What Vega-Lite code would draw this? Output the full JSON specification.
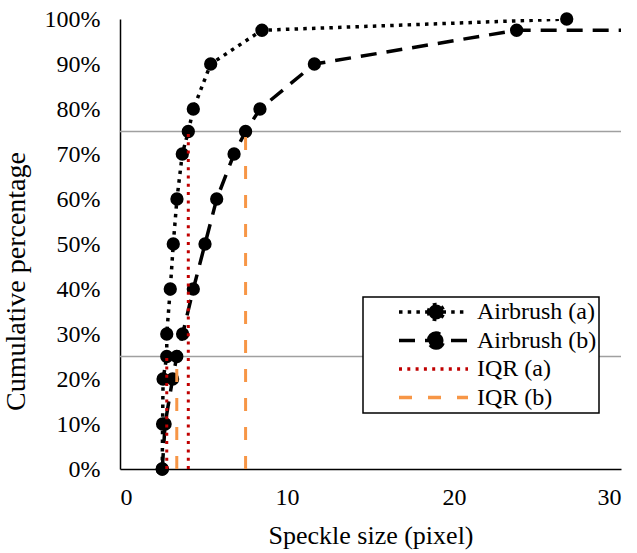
{
  "$schema": "https://vega.github.io/schema/vega-lite/v6.json",
  "width": 501,
  "height": 450,
  "autosize": {"type": "none"},
  "padding": {"left": 120, "top": 19, "right": 16, "bottom": 84},
  "background": "white",
  "config": {
    "font": "Liberation Serif",
    "view": {"stroke": null},
    "axis": {
      "domainColor": "black",
      "domainWidth": 1.5,
      "ticks": false,
      "tickSize": 0,
      "grid": false,
      "labelColor": "black",
      "labelFont": "Liberation Serif",
      "labelFontSize": 24,
      "titleColor": "black",
      "titleFont": "Liberation Serif",
      "titleFontWeight": "normal"
    },
    "axisX": {"labelPadding": 16, "titlePadding": 13, "titleFontSize": 26},
    "axisY": {"labelPadding": 20, "titlePadding": 14, "titleFontSize": 28, "titleY": 262}
  },
  "datasets": {
    "curves": [
      {"series": "Airbrush (a)", "size": 2.53, "pct": 0},
      {"series": "Airbrush (a)", "size": 2.55, "pct": 0.1},
      {"series": "Airbrush (a)", "size": 2.58, "pct": 0.2},
      {"series": "Airbrush (a)", "size": 2.8, "pct": 0.25},
      {"series": "Airbrush (a)", "size": 2.8, "pct": 0.3},
      {"series": "Airbrush (a)", "size": 3.01, "pct": 0.4},
      {"series": "Airbrush (a)", "size": 3.19, "pct": 0.5},
      {"series": "Airbrush (a)", "size": 3.41, "pct": 0.6},
      {"series": "Airbrush (a)", "size": 3.73, "pct": 0.7},
      {"series": "Airbrush (a)", "size": 4.09, "pct": 0.75},
      {"series": "Airbrush (a)", "size": 4.39, "pct": 0.8},
      {"series": "Airbrush (a)", "size": 5.43, "pct": 0.9},
      {"series": "Airbrush (a)", "size": 8.5, "pct": 0.975},
      {"series": "Airbrush (a)", "size": 26.75, "pct": 1.0},
      {"series": "Airbrush (b)", "size": 2.53, "pct": 0},
      {"series": "Airbrush (b)", "size": 2.7, "pct": 0.1},
      {"series": "Airbrush (b)", "size": 3.15, "pct": 0.2},
      {"series": "Airbrush (b)", "size": 3.4, "pct": 0.25},
      {"series": "Airbrush (b)", "size": 3.75, "pct": 0.3},
      {"series": "Airbrush (b)", "size": 4.39, "pct": 0.4},
      {"series": "Airbrush (b)", "size": 5.09, "pct": 0.5},
      {"series": "Airbrush (b)", "size": 5.79, "pct": 0.6},
      {"series": "Airbrush (b)", "size": 6.83, "pct": 0.7},
      {"series": "Airbrush (b)", "size": 7.52, "pct": 0.75},
      {"series": "Airbrush (b)", "size": 8.38, "pct": 0.8},
      {"series": "Airbrush (b)", "size": 11.64, "pct": 0.9},
      {"series": "Airbrush (b)", "size": 23.75, "pct": 0.975},
      {"series": "Airbrush (b)", "size": 31, "pct": 0.975}
    ],
    "iqr": [
      {"series": "IQR (a)", "size": 2.8, "from": 0, "to": 0.25},
      {"series": "IQR (a)", "size": 4.09, "from": 0, "to": 0.75},
      {"series": "IQR (b)", "size": 3.4, "from": 0, "to": 0.25},
      {"series": "IQR (b)", "size": 7.52, "from": 0, "to": 0.75}
    ],
    "quartiles": [{"q": 0.25}, {"q": 0.75}]
  },
  "layer": [
    {
      "data": {"name": "quartiles"},
      "mark": {"type": "rule", "color": "#A0A0A0", "strokeWidth": 1.5},
      "encoding": {
        "y": {
          "field": "q", "type": "quantitative",
          "scale": {"domain": [0, 1], "nice": false},
          "title": "Cumulative percentage",
          "axis": {"values": [0, 0.1, 0.2, 0.3, 0.4, 0.5, 0.6, 0.7, 0.8, 0.9, 1], "format": ".0%"}
        }
      }
    },
    {
      "data": {"name": "curves"},
      "mark": {"type": "line", "clip": true, "strokeWidth": 3.5},
      "encoding": {
        "x": {
          "field": "size", "type": "quantitative",
          "scale": {"domain": [0, 30], "nice": false},
          "title": "Speckle size (pixel)",
          "axis": {"values": [0, 10, 20, 30]}
        },
        "y": {
          "field": "pct", "type": "quantitative",
          "scale": {"domain": [0, 1], "nice": false},
          "title": "Cumulative percentage",
          "axis": {"values": [0, 0.1, 0.2, 0.3, 0.4, 0.5, 0.6, 0.7, 0.8, 0.9, 1], "format": ".0%"}
        },
        "color": {
          "field": "series", "type": "nominal",
          "scale": {
            "domain": ["Airbrush (a)", "Airbrush (b)", "IQR (a)", "IQR (b)"],
            "range": ["black", "black", "#C00000", "#F79646"]
          },
          "legend": {
            "title": null,
            "orient": "none",
            "legendX": 243,
            "legendY": 278,
            "clipHeight": 26,
            "rowPadding": 2.5,
            "padding": 2,
            "strokeColor": "black",
            "fillColor": "white",
            "labelFont": "Liberation Serif",
            "labelFontSize": 24,
            "labelColor": "black",
            "labelOffset": 8,
            "labelLimit": 400,
            "symbolSize": 10000,
            "symbolStrokeWidth": 3.5,
            "labelExpr": "datum.label + '   '",
            "encode": {
              "legend": {"update": {"strokeWidth": {"value": 1.5}}},
              "symbols": {
                "update": {
                  "shape": {"signal": "indexof(datum.value, 'Airbrush') == 0 ? 'M-0.36,0L1.02,0M0.23,0A0.15,0.15,0,1,1,0.53,0A0.15,0.15,0,1,1,0.23,0Z' : 'M-0.36,0L1.02,0'"},
                  "fill": {"value": "black"},
                  "fillOpacity": {"value": 1},
                  "opacity": {"value": 1}
                }
              }
            }
          }
        },
        "strokeDash": {
          "field": "series", "type": "nominal",
          "scale": {
            "domain": ["Airbrush (a)", "Airbrush (b)", "IQR (a)", "IQR (b)"],
            "range": [[3.5, 5.2], [16, 10], [3, 5.3], [13, 16]]
          }
        }
      }
    },
    {
      "data": {"name": "curves"},
      "transform": [{"filter": "datum.size <= 30"}],
      "mark": {"type": "point", "filled": true, "color": "black", "opacity": 1, "size": 177},
      "encoding": {
        "x": {"field": "size", "type": "quantitative", "title": "Speckle size (pixel)", "axis": {"values": [0, 10, 20, 30]}},
        "y": {"field": "pct", "type": "quantitative", "title": "Cumulative percentage", "axis": {"values": [0, 0.1, 0.2, 0.3, 0.4, 0.5, 0.6, 0.7, 0.8, 0.9, 1], "format": ".0%"}},
        "detail": {"field": "series"}
      }
    },
    {
      "data": {"name": "iqr"},
      "mark": {"type": "rule", "strokeWidth": 3},
      "encoding": {
        "x": {"field": "size", "type": "quantitative", "title": "Speckle size (pixel)", "axis": {"values": [0, 10, 20, 30]}},
        "y": {"field": "from", "type": "quantitative", "title": "Cumulative percentage", "axis": {"values": [0, 0.1, 0.2, 0.3, 0.4, 0.5, 0.6, 0.7, 0.8, 0.9, 1], "format": ".0%"}},
        "y2": {"field": "to"},
        "color": {"field": "series", "type": "nominal"},
        "strokeDash": {"field": "series", "type": "nominal"}
      }
    }
  ]
}
